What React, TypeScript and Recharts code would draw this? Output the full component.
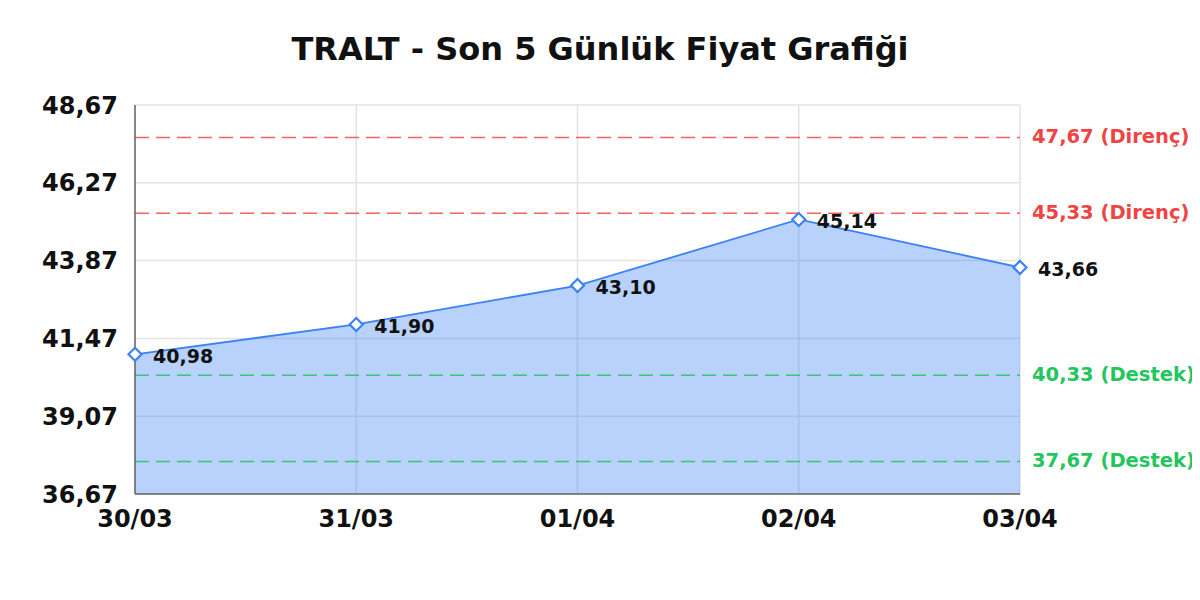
import React from "react";
import {
  AreaChart,
  Area,
  XAxis,
  YAxis,
  CartesianGrid,
  ReferenceLine,
} from "recharts";

const dates = ["30/03", "31/03", "01/04", "02/04", "03/04"];
const prices = [40.98, 41.9, 43.1, 45.14, 43.66];
const yTicks = [36.67, 39.07, 41.47, 43.87, 46.27, 48.67];
const resistance = [47.67, 45.33];
const support = [40.33, 37.67];
const title = "TRALT - Son 5 Günlük Fiyat Grafiği";

const data = dates.map((d, i) => ({ date: d, price: prices[i] }));

const FONT = "'DejaVu Sans', sans-serif";
const fmt = (v: number) => v.toFixed(2).replace(".", ",");

const W = 1192;
const H = 584;

const Diamond = (props: any) => {
  const { cx, cy } = props;
  if (cx == null || cy == null) return null;
  const s = 6.5;
  return (
    <polygon
      points={`${cx},${cy - s} ${cx + s},${cy} ${cx},${cy + s} ${cx - s},${cy}`}
      fill="#ffffff"
      stroke="#3b82f6"
      strokeWidth={2.2}
    />
  );
};

const ValueLabel = (props: any) => {
  const { x, y, value } = props;
  if (x == null || y == null) return null;
  return (
    <text
      x={x + 18}
      y={y + 3}
      dominantBaseline="middle"
      textAnchor="start"
      fontFamily={FONT}
      fontWeight="bold"
      fontSize={19}
      fill="#111111"
    >
      {fmt(value)}
    </text>
  );
};

const refLabel = (text: string, color: string) => (props: any) => {
  const vb = props.viewBox || {};
  return (
    <text
      x={(vb.x || 0) + (vb.width || 0) + 12}
      y={vb.y || 0}
      dominantBaseline="middle"
      textAnchor="start"
      fontFamily={FONT}
      fontWeight="bold"
      fontSize={19.5}
      fill={color}
    >
      {text}
    </text>
  );
};

export default function App() {
  return (
    <div style={{ position: "relative", width: W, height: H }}>
      <AreaChart
        width={W}
        height={H}
        data={data}
        margin={{ top: 97, right: 180, bottom: 68, left: 0 }}
      >
        <CartesianGrid stroke="#e3e3e3" strokeWidth={1.5} />
        <XAxis
          dataKey="date"
          tickLine={false}
          tickSize={0}
          tickMargin={16}
          height={30}
          axisLine={{ stroke: "#666666", strokeWidth: 1.5 }}
          tick={{ fontFamily: FONT, fontWeight: "bold", fontSize: 24, fill: "#111111" }}
          interval={0}
        />
        <YAxis
          type="number"
          domain={[36.67, 48.67]}
          ticks={yTicks}
          allowDataOverflow
          width={127}
          tickLine={false}
          tickSize={0}
          tickMargin={17}
          axisLine={{ stroke: "#666666", strokeWidth: 1.5 }}
          tickFormatter={fmt}
          tick={{ fontFamily: FONT, fontWeight: "bold", fontSize: 24, fill: "#111111" }}
        />
        <Area
          type="linear"
          dataKey="price"
          stroke="#3b82f6"
          strokeWidth={1.8}
          fill="#3b82f6"
          fillOpacity={0.36}
          dot={<Diamond />}
          activeDot={false}
          label={<ValueLabel />}
          isAnimationActive={false}
        />
        {resistance.map((v) => (
          <ReferenceLine
            key={"r" + v}
            y={v}
            stroke="#f04848"
            strokeOpacity={0.85}
            strokeWidth={1.5}
            strokeDasharray="14 7"
            label={refLabel(`${fmt(v)} (Direnç)`, "#ef4444")}
          />
        ))}
        {support.map((v) => (
          <ReferenceLine
            key={"s" + v}
            y={v}
            stroke="#22c55e"
            strokeOpacity={0.85}
            strokeWidth={1.5}
            strokeDasharray="14 7"
            label={refLabel(`${fmt(v)} (Destek)`, "#22c55e")}
          />
        ))}
      </AreaChart>
      <svg
        width={W}
        height={80}
        style={{ position: "absolute", left: 0, top: 0, pointerEvents: "none" }}
      >
        <text
          x={592}
          y={52}
          textAnchor="middle"
          fontFamily={FONT}
          fontWeight="bold"
          fontSize={32}
          fill="#111111"
        >
          {title}
        </text>
      </svg>
    </div>
  );
}
